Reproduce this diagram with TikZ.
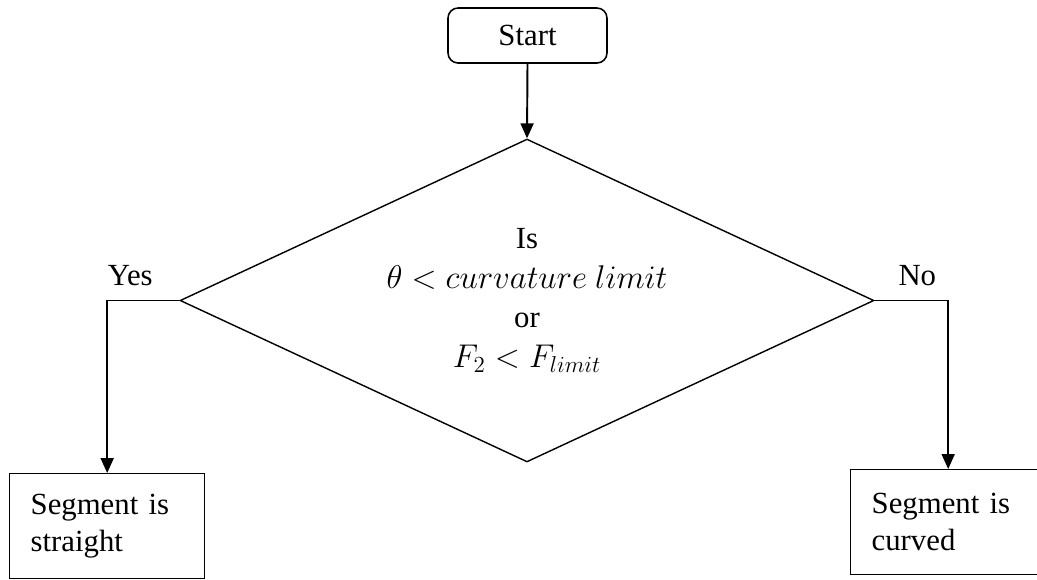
\RequirePackage{fix-cm}
\documentclass[tikz,border=0pt]{standalone}
\usepackage{fontspec}
\setmainfont{Liberation Serif}
\usetikzlibrary{positioning, arrows.meta, shapes.geometric}

\newcommand{\mathsize}{\fontsize{18.7}{21}\selectfont}

\begin{document}
\begin{tikzpicture}[
    x=0.02cm, y=-0.02cm,
    >={Triangle[length=0.3cm, width=0.26cm]},
    every node/.style={font=\fontsize{17.5}{21}\selectfont},
    startbox/.style={draw, rounded corners=0.2cm, line width=0.9pt, minimum width=3.18cm, minimum height=1.1cm},
    decision/.style={draw, diamond, shape aspect=2.15, line width=0.8pt, minimum width=13.88cm, minimum height=6.46cm, align=center, inner sep=0pt},
    outbox/.style={draw, line width=0.8pt, minimum width=3.9cm, minimum height=2.1cm, text width=3.06cm, inner xsep=0.42cm, align=left},
    arrow/.style={->, line width=1.1pt},
    answer/.style={above=0.16cm},
]
\useasboundingbox (0,0) rectangle (1037,579);
\clip (0,0) rectangle (1037,579);

% -- start --
\node[startbox] (start) at (527.5,35.5) {Start};

% -- decision --
\node[decision] (check) at (527,300.5)
    {Is\\[2pt] {\mathsize $\theta < curvature\ limit$}\\[1pt] or\\[2pt] {\mathsize $F_2 < F_{limit}$}};

% -- outcomes --
\node[outbox, anchor=north west] (straight) at (9,473) {Segment is\\straight};
\node[outbox, anchor=north west] (curved) at (850,469) {Segment is\\curved};

% -- arrows --
\draw[arrow] (start.south) -- (check.north);
\draw[arrow] (check.west) -| (straight.north)
    node[pos=0.34, answer] {Yes};
\draw[arrow] (check.east) -| (curved.north)
    node[pos=0.29, answer] {No};

\end{tikzpicture}
\end{document}
